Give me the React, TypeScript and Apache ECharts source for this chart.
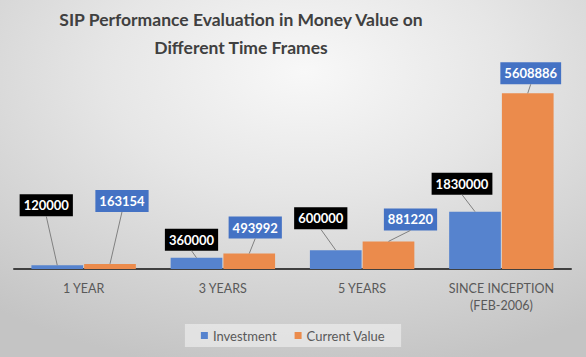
import React, { useEffect, useRef } from "react";
import * as echarts from "echarts";

const categories = ["1 YEAR", "3 YEARS", "5 YEARS", "SINCE INCEPTION\n(FEB-2006)"];
const investment = [120000, 360000, 600000, 1830000];
const currentValue = [163154, 493992, 881220, 5608886];
const seriesNames = ["Investment", "Current Value"];

// label offsets (style, not data): [dx, dy] relative to default 'top' label position
const investmentLabelShift = [[-11, -44], [-5, -2], [-15, -16], [-13, -12]];
const currentLabelShift = [[12, -47], [6, -10], [22, -6], [3, -4]];
const labelShifts = [investmentLabelShift, currentLabelShift];

const BAR_CATEGORY_GAP = 0.25;
const BAR_GAP = 0.02;
const LABEL_DISTANCE = 5;

const FONT = "Lato, 'Open Sans', sans-serif";

export default function App() {
  const ref = useRef<HTMLDivElement>(null);
  useEffect(() => {
    if (!ref.current) return;
    document.body.style.margin = "0";
    document.body.style.overflow = "hidden";
    const chart = echarts.init(ref.current, null, { renderer: "svg" });
    const labelBase = {
      show: true,
      position: "top" as const,
      distance: LABEL_DISTANCE,
      color: "#ffffff",
      fontFamily: FONT,
      fontWeight: "bold" as const,
      fontSize: 13,
      lineHeight: 14,
      padding: [4, 4, 4, 4],
    };
    const leaderData = [
      ...investment.map((v, i) => [i, v, 0]),
      ...currentValue.map((v, i) => [i, v, 1]),
    ];
    const option = {
      animation: false,
      backgroundColor: {
        type: "radial",
        x: 0.52,
        y: 0.2,
        r: 0.85,
        colorStops: [
          { offset: 0, color: "#f8f8f8" },
          { offset: 0.4, color: "#e6e6e6" },
          { offset: 1, color: "#c4c4c4" },
        ],
      },
      textStyle: { fontFamily: FONT },
      title: {
        text: "SIP Performance Evaluation in Money Value on\nDifferent Time Frames",
        left: 241,
        top: 5,
        padding: 0,
        textAlign: "center",
        textStyle: {
          fontFamily: FONT,
          fontSize: 17.5,
          fontWeight: "bold",
          color: "#404040",
          lineHeight: 28,
        },
      },
      legend: {
        data: seriesNames,
        bottom: 10,
        left: "center",
        icon: "rect",
        itemWidth: 7,
        itemHeight: 7,
        itemGap: 18,
        padding: [5, 16, 5, 16],
        backgroundColor: "rgba(245,245,245,0.55)",
        textStyle: { color: "#595959", fontSize: 13, fontFamily: FONT },
      },
      grid: { left: 14, right: 15, top: 81, bottom: 88, containLabel: false },
      xAxis: {
        type: "category",
        data: categories,
        axisLine: { lineStyle: { color: "#404040", width: 2 } },
        axisTick: { show: false },
        axisLabel: {
          color: "#595959",
          fontSize: 12.5,
          lineHeight: 17,
          margin: 11,
          fontFamily: FONT,
          interval: 0,
        },
      },
      yAxis: {
        type: "value",
        min: 0,
        max: 6000000,
        show: false,
        splitLine: { show: false },
      },
      series: [
        {
          name: "leaders",
          type: "custom",
          silent: true,
          z: 3,
          data: leaderData,
          renderItem: (_params: any, api: any) => {
            const cat = api.value(0);
            const val = api.value(1);
            const s = api.value(2);
            const pt = api.coord([cat, val]);
            const band = api.size([1, 0])[0];
            const bw = (band * (1 - BAR_CATEGORY_GAP)) / (2 + BAR_GAP);
            const off = (bw * (1 + BAR_GAP)) / 2;
            const bx = pt[0] + (s === 0 ? -off : off);
            const top = pt[1];
            const sh = labelShifts[s][cat];
            return {
              type: "line",
              shape: {
                x1: bx + sh[0],
                y1: top - LABEL_DISTANCE + sh[1],
                x2: bx,
                y2: top,
              },
              style: { stroke: "#808080", lineWidth: 1 },
            };
          },
        },
        {
          name: seriesNames[0],
          type: "bar",
          data: investment,
          barGap: `${BAR_GAP * 100}%`,
          barCategoryGap: `${BAR_CATEGORY_GAP * 100}%`,
          itemStyle: { color: "#5683CE" },
          label: { ...labelBase, backgroundColor: "#000000" },
          labelLayout: (p: any) => ({
            dx: investmentLabelShift[p.dataIndex][0],
            dy: investmentLabelShift[p.dataIndex][1],
          }),
        },
        {
          name: seriesNames[1],
          type: "bar",
          data: currentValue,
          itemStyle: { color: "#EB8B4C" },
          label: { ...labelBase, backgroundColor: "#4472C4" },
          labelLayout: (p: any) => ({
            dx: currentLabelShift[p.dataIndex][0],
            dy: currentLabelShift[p.dataIndex][1],
          }),
        },
      ],
    };
    chart.setOption(option);
    return () => chart.dispose();
  }, []);
  return (
    <div
      ref={ref}
      style={{
        position: "absolute",
        left: 0,
        top: 0,
        width: 586,
        height: 357,
      }}
    />
  );
}
